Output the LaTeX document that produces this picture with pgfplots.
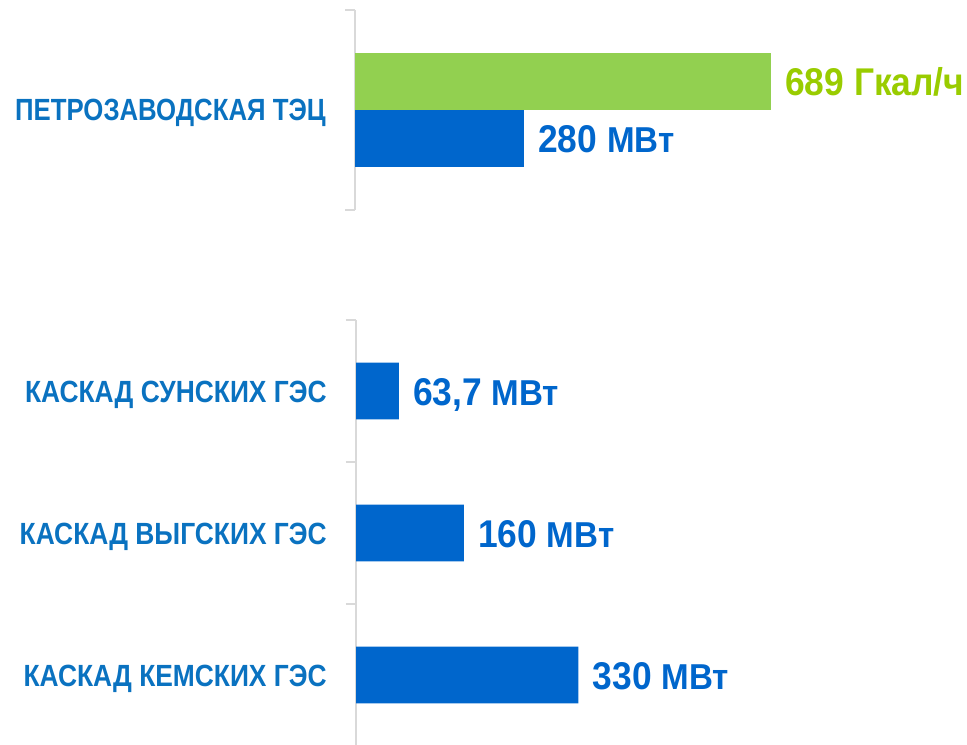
\documentclass[border=0pt]{standalone}
\usepackage{pgfplots}
\pgfplotsset{compat=1.18}
\usepackage{fontspec}
\setmainfont{Liberation Sans}[FakeStretch=0.915]
\newfontfamily\catfont{Liberation Sans}[FakeStretch=0.86]
\newfontfamily\catfontb{Liberation Sans}[FakeStretch=0.84]
\newfontfamily\unitfam{Liberation Sans}[FakeStretch=0.92]
\newcommand\unitfont{\unitfam\fontsize{27}{28}\selectfont\bfseries}
\definecolor{barblue}{HTML}{0066CC}
\definecolor{bargreen}{HTML}{92D050}
\definecolor{txtgreen}{HTML}{99CC00}
\definecolor{catblue}{HTML}{0A72C0}
\definecolor{lgray}{HTML}{D9D9D9}
\begin{document}
\begin{tikzpicture}
\useasboundingbox (0,0) rectangle (725.25pt,558.75pt);
\pgfplotsset{
 mystyle/.style={
  scale only axis, clip=false, xbar, bar shift=0pt,
  axis x line=none, axis y line*=left,
  xmin=0,
  axis line style={draw=lgray, line width=1.2pt},
  major tick length=0pt, tick align=outside,
  yticklabel style={font=\catfont\fontsize{23}{24}\selectfont\bfseries, color=catblue, anchor=east, inner sep=0pt, xshift=-21.75pt, text height=16.5pt, text depth=0pt},
  extra y tick style={major tick length=7.5pt, tick style={draw=lgray, line width=1.2pt}},
  extra y tick labels={},
  point meta=x,
  nodes near coords={\pgfmathprintnumber{\pgfplotspointmeta}~{\unitfont МВт}},
  every node near coord/.append style={font=\fontsize{29}{30}\selectfont\bfseries, color=barblue, anchor=west, inner sep=0pt, xshift=10.5pt, text height=21pt, text depth=0pt},
  /pgf/number format/.cd, assume math mode=true, use comma, 1000 sep={}
 }
}
\begin{axis}[mystyle, at={(266.25pt,401.25pt)}, anchor=south west,
  width=452.8pt, height=150pt, xmax=1000, ymin=0, ymax=200, bar width=57,
  yticklabel style={font=\catfontb\fontsize{23}{24}\selectfont\bfseries},
  ytick={100}, yticklabels={ПЕТРОЗАВОДСКАЯ ТЭЦ}, extra y ticks={0,200}]
\addplot[fill=bargreen, draw=none,
  nodes near coords={\pgfmathprintnumber{\pgfplotspointmeta}~Гкал/ч},
  every node near coord/.append style={color=txtgreen}] coordinates {(689,128.5)};
\addplot[fill=barblue, draw=none] coordinates {(280,71)};
\end{axis}
\begin{axis}[mystyle, at={(267pt,-0.75pt)}, anchor=south west,
  width=455pt, height=319.5pt, xmax=900, ymin=-0.5, ymax=2.5, y dir=reverse, bar width=0.4,
  ytick={0,1,2}, yticklabels={КАСКАД СУНСКИХ ГЭС, КАСКАД ВЫГСКИХ ГЭС, КАСКАД КЕМСКИХ ГЭС},
  extra y ticks={-0.5,0.5,1.5}]
\addplot[fill=barblue, draw=none] coordinates {(63.7,0) (160,1) (330,2)};
\end{axis}
\end{tikzpicture}
\end{document}
